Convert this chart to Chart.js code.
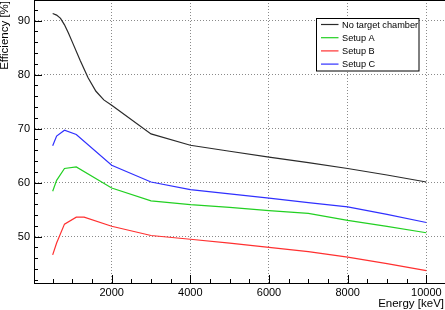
<!DOCTYPE html>
<html>
<head>
<meta charset="utf-8">
<script src="https://cdn.jsdelivr.net/npm/chart.js@4.4.1/dist/chart.umd.min.js"></script>
<style>
html,body{margin:0;padding:0;background:#fff;}
#wrap{width:445px;height:310px;}
</style>
</head>
<body>
<div id="wrap"><canvas id="c" width="445" height="310"></canvas></div>
<script>
// ---- data ----
const seriesNames = ["No target chamber", "Setup A", "Setup B", "Setup C"];
const energyNoTarget = [500,600,700,800,900,1000,1200,1400,1600,1800,2000,3000,4000,5000,6000,7000,8000,9000,10000];
const effNoTarget    = [91.3,91.0,90.4,89.2,87.7,86.0,82.6,79.4,76.9,75.3,74.3,69.0,66.9,65.8,64.7,63.7,62.6,61.4,60.1];
const energyA = [500,600,800,1100,2000,3000,4000,5000,6000,7000,8000,9000,10000];
const effA    = [58.4,60.4,62.6,62.9,59.0,56.6,55.9,55.4,54.8,54.3,53.0,51.9,50.7];
const energyB = [500,600,800,1100,1300,2000,3000,4000,5000,6000,7000,8000,9000,10000];
const effB    = [46.6,48.8,52.3,53.6,53.6,51.9,50.2,49.5,48.8,48.0,47.2,46.2,45.0,43.7];
const energyC = [500,600,800,1100,2000,3000,4000,5000,6000,7000,8000,9000,10000];
const effC    = [66.8,68.6,69.7,68.9,63.2,60.1,58.7,57.9,57.1,56.3,55.5,54.1,52.6];
const xTicks = [2000,4000,6000,8000,10000];
const yTicks = [50,60,70,80,90];
const xMinorStep = 500, yMinorStep = 2;
const xTitle = "Energy [keV]";
const yTitle = "Efficiency [%]";

const colors = ["#2a2a2a", "#22d022", "#ff3030", "#3030ff"];
const FONT = "'Liberation Sans', Arial, Helvetica, sans-serif";

function pts(xs, ys){ return xs.map((x,i)=>({x:x, y:ys[i]})); }
const datasets = [
  pts(energyNoTarget, effNoTarget),
  pts(energyA, effA),
  pts(energyB, effB),
  pts(energyC, effC)
].map((d,i)=>({
  label: seriesNames[i], data: d, borderColor: colors[i], backgroundColor: colors[i],
  borderWidth: 1.2, pointRadius: 0, tension: 0, fill: false
}));

const rootPlugin = {
  id: 'rootStyle',
  beforeDatasetsDraw(chart){
    const ctx = chart.ctx, xs = chart.scales.x, ys = chart.scales.y, a = chart.chartArea;
    ctx.save();
    ctx.strokeStyle = '#000'; ctx.lineWidth = 1;
    for (let v = Math.ceil(xs.min/xMinorStep)*xMinorStep; v <= xs.max; v += xMinorStep){
      const px = Math.round(xs.getPixelForValue(v)) + 0.5;
      const len = (v % 2000 === 0) ? 8 : 4;
      ctx.beginPath(); ctx.moveTo(px, a.bottom); ctx.lineTo(px, a.bottom - len); ctx.stroke();
    }
    for (let v = Math.ceil(ys.min/yMinorStep)*yMinorStep; v <= ys.max; v += yMinorStep){
      const py = Math.round(ys.getPixelForValue(v)) + 0.5;
      const len = (v % 10 === 0) ? 8 : 4;
      ctx.beginPath(); ctx.moveTo(a.left, py); ctx.lineTo(a.left + len, py); ctx.stroke();
    }
    ctx.beginPath(); ctx.moveTo(a.left, a.top + 0.5); ctx.lineTo(a.right, a.top + 0.5); ctx.stroke();
    ctx.restore();
  },
  afterDraw(chart){
    const ctx = chart.ctx;
    ctx.save();
    ctx.fillStyle = '#000';
    ctx.font = '11.5px ' + FONT;
    ctx.textAlign = 'right'; ctx.textBaseline = 'alphabetic';
    ctx.fillText(xTitle, 444, 306.5);
    ctx.save();
    ctx.translate(8, 1);
    ctx.rotate(-Math.PI/2);
    ctx.textAlign = 'right';
    ctx.fillText(yTitle, 0, 0);
    ctx.restore();
    const bx = 316.5, by = 18.5, bw = 102.5, bh = 52.5;
    ctx.fillStyle = '#fff'; ctx.fillRect(bx, by, bw, bh);
    ctx.strokeStyle = '#000'; ctx.lineWidth = 1; ctx.strokeRect(bx, by, bw, bh);
    ctx.font = '9.2px ' + FONT; ctx.textAlign = 'left'; ctx.textBaseline = 'middle';
    chart.data.datasets.forEach((ds, i) => {
      const y = 24.5 + i * 13.2;
      ctx.strokeStyle = ds.borderColor; ctx.lineWidth = 1.2;
      ctx.beginPath(); ctx.moveTo(321, y); ctx.lineTo(338.5, y); ctx.stroke();
      ctx.fillStyle = '#000'; ctx.fillText(ds.label, 342, y + 0.5);
    });
    ctx.restore();
  }
};

function noPad(s){ s.paddingTop = 0; s.paddingBottom = 0; s.paddingLeft = 0; s.paddingRight = 0; }

new Chart(document.getElementById('c'), {
  type: 'line',
  data: { datasets: datasets },
  options: {
    responsive: false, animation: false, devicePixelRatio: 1,
    layout: { padding: 0 },
    plugins: { legend: { display: false }, tooltip: { enabled: false }, title: { display: false } },
    scales: {
      x: {
        type: 'linear', position: 'bottom', min: 25, max: 10475,
        afterFit(s){ s.height = 27; noPad(s); },
        afterBuildTicks(s){ s.ticks = xTicks.map(v => ({value: v})); },
        ticks: { font: { family: FONT, size: 11 }, color: '#000', padding: 3, maxRotation: 0, autoSkip: false,
                 callback: v => String(v) },
        grid: { color: '#8a8a8a', lineWidth: 1, drawTicks: false },
        border: { display: true, color: '#000', width: 1, dash: [1, 2] }
      },
      y: {
        type: 'linear', position: 'left', min: 41.4, max: 93.8,
        afterFit(s){ s.width = 34; noPad(s); },
        afterBuildTicks(s){ s.ticks = yTicks.map(v => ({value: v})); },
        ticks: { font: { family: FONT, size: 11 }, color: '#000', padding: 4, autoSkip: false,
                 callback: v => String(v) },
        grid: { color: '#8a8a8a', lineWidth: 1, drawTicks: false },
        border: { display: true, color: '#000', width: 1, dash: [1, 2] }
      }
    }
  },
  plugins: [rootPlugin]
});
</script>
</body>
</html>
